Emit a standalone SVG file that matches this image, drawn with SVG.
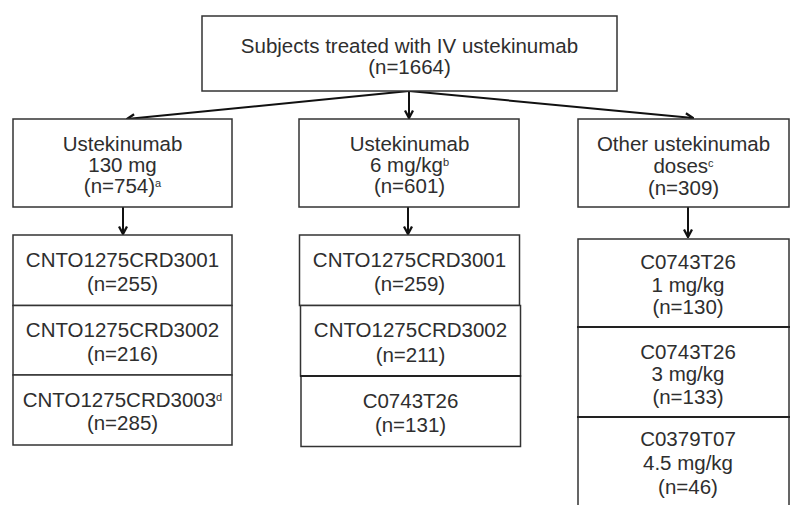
<svg xmlns="http://www.w3.org/2000/svg" width="791" height="505" viewBox="0 0 791 505">
<defs>
<style>
.box{fill:#fff;stroke:#333;stroke-width:1.5}
.sep{stroke:#222;stroke-width:2}
.t{font-family:"Liberation Sans",Arial,sans-serif;font-size:20.5px;fill:#2e2e2e;text-anchor:middle}
.sup{font-size:11px}
.con{stroke:#111;stroke-width:2;fill:none}
</style>
<marker id="arr" viewBox="0 0 10 10" refX="9" refY="5" markerWidth="10" markerHeight="10" markerUnits="userSpaceOnUse" orient="auto">
<path d="M1.5,1 L9,5 L1.5,9" fill="none" stroke="#111" stroke-width="2.3"/>
</marker>
</defs>
<rect width="791" height="505" fill="#fff"/>

<g id="connectors">
<line class="con" x1="409" y1="91" x2="127" y2="119" marker-end="url(#arr)"/>
<line class="con" x1="409" y1="91" x2="409" y2="118" marker-end="url(#arr)"/>
<line class="con" x1="409" y1="91" x2="693" y2="118" marker-end="url(#arr)"/>
<line class="con" x1="123" y1="207" x2="123" y2="234" marker-end="url(#arr)"/>
<line class="con" x1="408" y1="207" x2="408" y2="234" marker-end="url(#arr)"/>
<line class="con" x1="688" y1="207" x2="688" y2="237" marker-end="url(#arr)"/>
</g>

<g id="top">
<rect class="box" x="202" y="16" width="415" height="75"/>
<text class="t" x="409.5" y="52.5">Subjects treated with IV ustekinumab</text>
<text class="t" x="409.5" y="73.5">(n=1664)</text>
</g>

<g id="h130">
<rect class="box" x="13" y="119" width="219" height="88"/>
<text class="t" x="122.5" y="151">Ustekinumab</text>
<text class="t" x="122.5" y="172">130 mg</text>
<text class="t" x="122.5" y="193">(n=754)<tspan class="sup" dy="-6">a</tspan></text>
</g>

<g id="h6">
<rect class="box" x="299" y="119" width="220" height="88"/>
<text class="t" x="409.5" y="151">Ustekinumab</text>
<text class="t" x="409.5" y="172">6 mg/kg<tspan class="sup" dy="-6">b</tspan></text>
<text class="t" x="409.5" y="193">(n=601)</text>
</g>

<g id="hother">
<rect class="box" x="578" y="119" width="211" height="88"/>
<text class="t" x="683.5" y="151">Other ustekinumab</text>
<text class="t" x="683.5" y="173">doses<tspan class="sup" dy="-6">c</tspan></text>
<text class="t" x="683.5" y="195">(n=309)</text>
</g>

<g id="l1">
<rect class="box" x="13" y="235" width="219" height="70.5"/>
<text class="t" x="122.5" y="266.5">CNTO1275CRD3001</text>
<text class="t" x="122.5" y="291">(n=255)</text>
</g>
<g id="l2">
<rect class="box" x="13" y="305.5" width="219" height="69.5"/>
<text class="t" x="122.5" y="336.5">CNTO1275CRD3002</text>
<text class="t" x="122.5" y="360.5">(n=216)</text>
</g>
<g id="l3">
<rect class="box" x="13" y="375" width="219" height="70"/>
<text class="t" x="122.5" y="406.5">CNTO1275CRD3003<tspan class="sup" dy="-6">d</tspan></text>
<text class="t" x="122.5" y="430">(n=285)</text>
</g>

<g id="m1">
<rect class="box" x="299.5" y="235" width="220" height="70.5"/>
<text class="t" x="409.5" y="266.5">CNTO1275CRD3001</text>
<text class="t" x="409.5" y="291">(n=259)</text>
</g>
<g id="m2">
<rect class="box" x="300.5" y="305.5" width="220" height="70.5"/>
<text class="t" x="410.5" y="336.5">CNTO1275CRD3002</text>
<text class="t" x="410.5" y="361.5">(n=211)</text>
</g>
<g id="m3">
<rect class="box" x="301" y="376" width="219.5" height="70.5"/>
<line class="sep" x1="300" y1="376" x2="521" y2="376"/>
<text class="t" x="410.5" y="408">C0743T26</text>
<text class="t" x="410.5" y="431.5">(n=131)</text>
</g>

<g id="r1">
<rect class="box" x="578" y="239" width="211" height="88"/>
<text class="t" x="688" y="268.5">C0743T26</text>
<text class="t" x="688" y="291.5">1 mg/kg</text>
<text class="t" x="688" y="314">(n=130)</text>
</g>
<g id="r2">
<rect class="box" x="578" y="327" width="211" height="90"/>
<line class="sep" x1="577" y1="327" x2="790" y2="327"/>
<text class="t" x="688" y="358.5">C0743T26</text>
<text class="t" x="688" y="380.5">3 mg/kg</text>
<text class="t" x="688" y="403.5">(n=133)</text>
</g>
<g id="r3">
<rect class="box" x="578" y="417" width="211" height="95"/>
<line class="sep" x1="577" y1="417" x2="790" y2="417"/>
<text class="t" x="688" y="446">C0379T07</text>
<text class="t" x="688" y="470">4.5 mg/kg</text>
<text class="t" x="688" y="493.5">(n=46)</text>
</g>
</svg>
